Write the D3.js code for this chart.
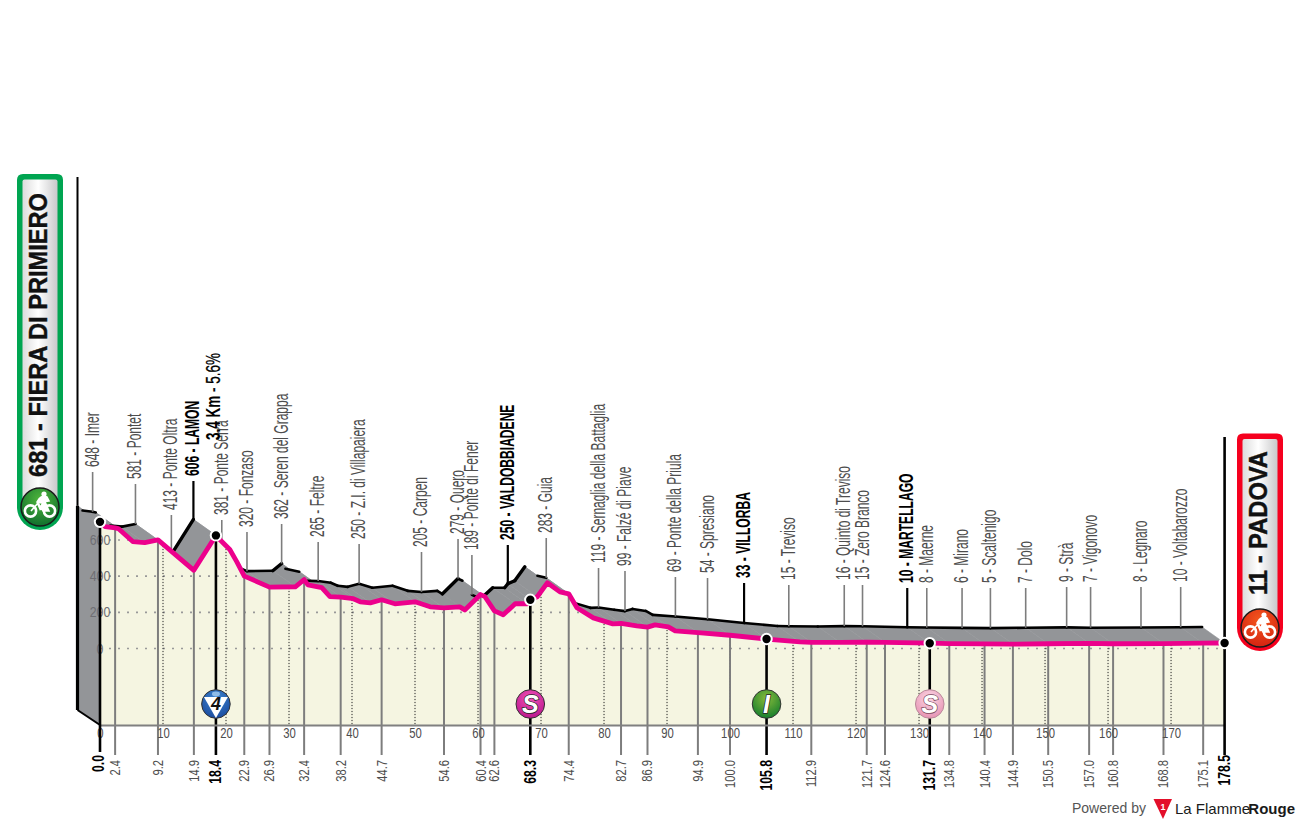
<!DOCTYPE html>
<html>
<head>
<meta charset="utf-8">
<script src="https://cdn.jsdelivr.net/npm/d3@7"></script>
<style>
  html, body { margin: 0; padding: 0; background: #fff; }
  svg { display: block; }
  text { font-family: "Liberation Sans Narrow", "Liberation Sans", sans-serif; }
</style>
</head>
<body>
<svg id="chart" width="1300" height="825"></svg>
<script>
// profile line (km / metres)
const profileKm = [0, 0.8, 2.4, 2.9, 5.2, 7.1, 9.2, 14.9, 18.4, 19, 20.6, 21.7, 22.9, 26.9, 31, 32.4, 33, 35.2, 36.5, 38.2,
  40.2, 41.3, 42.9, 44.7, 46.8, 50, 52.4, 54.6, 57.1, 57.9, 60.4, 61.1, 62.6, 64, 65.9, 67.8, 68.3, 69.4, 71, 73, 74.4,
  75.7, 78.3, 81.4, 82.7, 85.2, 86.9, 88.1, 90.2, 91.3, 94.9, 100, 105.8, 111.1, 112.9, 117.5, 121.7, 124.6, 131.7,
  134.8, 140.4, 144.9, 150.5, 157, 160.8, 168.8, 175.1, 178.5];
const profileElev = [681, 655, 648, 644, 572, 566, 581, 413, 606, 583, 528, 461, 381, 320, 322, 362, 333, 317, 267, 265,
  256, 239, 233, 250, 228, 239, 211, 205, 211, 194, 279, 267, 189, 167, 228, 228, 250, 267, 344, 294, 283,
  206, 150, 117, 119, 106, 99, 111, 100, 78, 69, 54, 33, 17, 15, 14, 16, 15, 10,
  8, 6, 5, 7, 9, 7, 8, 10, 11];

// named places along the route
const stopKm = [2.4, 9.2, 14.9, 18.4, 22.9, 26.9, 32.4, 38.2, 44.7, 54.6, 60.4, 62.6, 68.3, 74.4, 82.7, 86.9, 94.9, 100.0,
  105.8, 112.9, 121.7, 124.6, 131.7, 134.8, 140.4, 144.9, 150.5, 157.0, 160.8, 168.8, 175.1];
const stopElev = [648, 581, 413, 606, 381, 320, 362, 265, 250, 205, 279, 189, 250, 283, 119, 99, 69, 54,
  33, 15, 16, 15, 10, 8, 6, 5, 7, 9, 7, 8, 10];
const stopName = ['Imer', 'Pontet', 'Ponte Oltra', 'LAMON', 'Ponte Serra', 'Fonzaso', 'Seren del Grappa', 'Feltre',
  'Z.I. di Villapaiera', 'Carpen', 'Quero', 'Ponte di Fener', 'VALDOBBIADENE', 'Guia', 'Sernaglia della Battaglia',
  'Falzé di Piave', 'Ponte della Priula', 'Spresiano', 'VILLORBA', 'Treviso', 'Quinto di Treviso', 'Zero Branco',
  'MARTELLAGO', 'Maerne', 'Mirano', 'Scaltenigo', 'Dolo', 'Strà', 'Vigonovo', 'Legnaro', 'Voltabarozzo'];
const majorKm = [0, 18.4, 68.3, 105.8, 131.7, 178.5];
const kmTicks = [0, 10, 20, 30, 40, 50, 60, 70, 80, 90, 100, 110, 120, 130, 140, 150, 160, 170];
const elevTicks = [0, 200, 400, 600];

// km marks with a climb or sprint badge
const badgeKm = [18.4, 68.3, 105.8, 131.7];
const badgeText = ['4', 'S', 'I', 'S'];
const climbText = ['3.4 Km', ' - 5.6%'];

// layout only: where each label stem ends at the top
const stemTop = [472, 484, 515, 481, 520, 532, 524, 542, 544, 552, 539, 555, 545, 538, 568, 571, 577, 578,
  583, 585, 585, 585, 588, 588, 588, 588, 588, 587, 587, 587, 587];

const baseY = 725;
const backDx = 22.5;
const backDy = 16;
const LIFT = 3.5; // profile sits a little above the elevation grid

const svg = d3.select('#chart');
const defs = svg.append('defs');

const xScale = d3.scaleLinear().domain([0, 178.5]).range([100, 1224.6]);
const yScale = d3.scaleLinear().domain([0, 600]).range([648.5, 540]);
const elevAt = d3.scaleLinear().domain(profileKm).range(profileElev);
const frontY = (e) => yScale(e) - LIFT;

const profile = profileKm.map((km, i) => ({ km, elev: profileElev[i] }));

function narrowLabel(sel, x, y, scaleX) {
  sel.attr('transform', `translate(${x},${y}) rotate(-90) scale(${scaleX},1)`);
}

function drawRibbon() {
  const g = svg.append('g');
  const quad = d3.line();
  // side wall at the start
  g.append('path')
    .attr('d', quad([
      [xScale(0) - backDx, frontY(681) - backDy],
      [xScale(0) - backDx, baseY - 15],
      [xScale(0), baseY],
      [xScale(0), frontY(681)],
    ]) + 'Z')
    .attr('fill', '#939598');
  d3.pairs(profile).forEach(([a, b]) => {
    g.append('path')
      .attr('d', quad([
        [xScale(a.km), frontY(a.elev)],
        [xScale(b.km), frontY(b.elev)],
        [xScale(b.km) - backDx, frontY(b.elev) - backDy],
        [xScale(a.km) - backDx, frontY(a.elev) - backDy],
      ]) + 'Z')
      .attr('fill', '#939598')
      .attr('stroke', '#939598')
      .attr('stroke-width', 0.6);
  });
  // back edge: black except where the road drops away steeply
  d3.pairs(profile).forEach(([a, b]) => {
    const x1 = xScale(a.km) - backDx;
    const x2 = xScale(b.km) - backDx;
    const y1 = frontY(a.elev) - backDy;
    const y2 = frontY(b.elev) - backDy;
    const slope = (y2 - y1) / (x2 - x1);
    if (slope > 0.62) return;
    g.append('line')
      .attr('x1', x1).attr('y1', y1).attr('x2', x2).attr('y2', y2)
      .attr('stroke', '#000')
      .attr('stroke-linecap', 'round')
      .attr('stroke-width', slope < -0.3 ? 3.4 : 2.6);
  });
}

function drawStems() {
  const g = svg.append('g');
  stopKm.forEach((km, i) => {
    const major = majorKm.includes(km);
    g.append('line')
      .attr('x1', xScale(km) - backDx)
      .attr('x2', xScale(km) - backDx)
      .attr('y1', stemTop[i])
      .attr('y2', frontY(elevAt(km)) - backDy)
      .attr('stroke', major ? '#000' : '#7d7d7d')
      .attr('stroke-width', major ? 2.2 : 1.6);
    const label = g.append('text')
      .attr('text-anchor', 'start')
      .attr('font-size', major ? 19.5 : 20)
      .attr('font-weight', major ? 700 : 400)
      .attr('fill', major ? '#000' : '#4d4d4d')
      .text(`${stopElev[i]} - ${stopName[i]}`);
    narrowLabel(label, xScale(km) - backDx + 6, stemTop[i] - 5, major ? 0.62 : 0.6);
  });
}

function drawFace() {
  const area = d3.area()
    .x((d) => xScale(d.km))
    .y0(baseY)
    .y1((d) => frontY(d.elev));
  defs.append('clipPath').attr('id', 'faceClip')
    .append('path').attr('d', area(profile));
  svg.append('path').attr('d', area(profile)).attr('fill', '#f5f5e1');

  const grid = svg.append('g').attr('clip-path', 'url(#faceClip)');
  grid.selectAll('line.h')
    .data(elevTicks)
    .join('line')
    .attr('class', 'h')
    .attr('x1', xScale(0))
    .attr('x2', xScale(178.5))
    .attr('y1', (d) => yScale(d))
    .attr('y2', (d) => yScale(d))
    .attr('stroke', '#999')
    .attr('stroke-width', 1.6)
    .attr('stroke-dasharray', '2 7');
  grid.selectAll('line.v')
    .data(kmTicks.slice(1))
    .join('line')
    .attr('class', 'v')
    .attr('x1', (d) => xScale(d))
    .attr('x2', (d) => xScale(d))
    .attr('y1', yScale(700))
    .attr('y2', baseY)
    .attr('stroke', '#222')
    .attr('stroke-width', 1)
    .attr('stroke-dasharray', '1.2 1.8');
}

function drawDrops() {
  const g = svg.append('g');
  stopKm.forEach((km) => {
    const major = majorKm.includes(km);
    g.append('line')
      .attr('x1', xScale(km))
      .attr('x2', xScale(km))
      .attr('y1', frontY(elevAt(km)))
      .attr('y2', 755)
      .attr('stroke', major ? '#000' : '#7d7d7d')
      .attr('stroke-width', major ? 2.6 : 2);
  });
}

function drawAxes() {
  const xAxis = d3.axisBottom(xScale).tickValues(kmTicks).tickSize(0).tickPadding(3);
  const gx = svg.append('g')
    .attr('transform', `translate(0,${baseY})`)
    .call(xAxis);
  gx.select('.domain').attr('stroke', '#808080').attr('stroke-width', 2);
  gx.selectAll('text')
    .attr('font-size', 14.5)
    .attr('fill', '#4d4d4d')
    .attr('font-family', '"Liberation Sans Narrow", sans-serif')
    .attr('transform', 'scale(0.78,1)');

  const yAxis = d3.axisLeft(yScale).tickValues(elevTicks).tickSize(0).tickPadding(0);
  const gy = svg.append('g')
    .attr('transform', `translate(${xScale(0)},0)`)
    .call(yAxis);
  gy.select('.domain').remove();
  gy.selectAll('text')
    .attr('x', 0)
    .attr('text-anchor', 'middle')
    .attr('font-size', 14.5)
    .attr('font-family', '"Liberation Sans Narrow", sans-serif')
    .attr('fill', '#6f6f74')
    .attr('transform', 'scale(0.85,1)');
}

function drawKmLabels() {
  const g = svg.append('g');
  const all = [0].concat(stopKm, [178.5]);
  all.forEach((km) => {
    const major = majorKm.includes(km);
    const label = g.append('text')
      .attr('text-anchor', 'end')
      .attr('font-size', major ? 17 : 15.5)
      .attr('font-weight', major ? 700 : 400)
      .attr('fill', major ? '#000' : '#4d4d4d')
      .text(km.toFixed(1));
    const shift = major ? 5.5 : 5;
    narrowLabel(label, xScale(km) + (km === 0 ? shift - 2 : shift), km === 0 || km === 178.5 ? 755 : 760, 0.72);
  });
}

function drawFrame() {
  const g = svg.append('g');
  // tall edges
  g.append('line')
    .attr('x1', xScale(0) - backDx).attr('x2', xScale(0) - backDx)
    .attr('y1', 177).attr('y2', frontY(681) - backDy)
    .attr('stroke', '#000').attr('stroke-width', 2);
  g.append('line')
    .attr('x1', xScale(0) - backDx).attr('x2', xScale(0) - backDx)
    .attr('y1', frontY(681) - backDy).attr('y2', baseY - 15)
    .attr('stroke', '#000').attr('stroke-width', 3.2);
  g.append('line')
    .attr('x1', xScale(0) - backDx).attr('x2', xScale(0))
    .attr('y1', baseY - 15).attr('y2', baseY)
    .attr('stroke', '#000').attr('stroke-width', 2);
  g.append('line')
    .attr('x1', xScale(0)).attr('x2', xScale(0))
    .attr('y1', frontY(681)).attr('y2', 752)
    .attr('stroke', '#000').attr('stroke-width', 2.6);
  g.append('line')
    .attr('x1', xScale(178.5)).attr('x2', xScale(178.5))
    .attr('y1', 437).attr('y2', 755)
    .attr('stroke', '#000').attr('stroke-width', 2.6);
}

function drawRoad() {
  const line = d3.line()
    .x((d) => xScale(d.km))
    .y((d) => frontY(d.elev));
  svg.append('path')
    .attr('d', line(profile))
    .attr('fill', 'none')
    .attr('stroke', '#ec008c')
    .attr('stroke-width', 4.8)
    .attr('stroke-linejoin', 'round');
  svg.selectAll('circle.km')
    .data(majorKm)
    .join('circle')
    .attr('class', 'km')
    .attr('cx', (d) => xScale(d))
    .attr('cy', (d) => frontY(elevAt(d)))
    .attr('r', 5.2)
    .attr('fill', '#000')
    .attr('stroke', '#fff')
    .attr('stroke-width', 2);
}

function radial(id, inner, outer) {
  const grad = defs.append('radialGradient').attr('id', id).attr('cx', '50%').attr('cy', '30%').attr('r', '75%');
  grad.append('stop').attr('offset', '0%').attr('stop-color', inner);
  grad.append('stop').attr('offset', '100%').attr('stop-color', outer);
}

function drawBadges() {
  radial('bBlue', '#3f86d0', '#17479b');
  radial('bMagenta', '#f052b8', '#b8148a');
  radial('bGreen', '#86ba3a', '#0f7a2c');
  radial('bPink', '#fbd5e3', '#e58fb0');
  const fills = ['url(#bBlue)', 'url(#bMagenta)', 'url(#bGreen)', 'url(#bPink)'];
  const y = 704;
  badgeKm.forEach((km, i) => {
    const cx = xScale(km);
    const g = svg.append('g').attr('transform', `translate(${cx},${y})`);
    g.append('circle').attr('r', 14.3).attr('fill', fills[i]).attr('stroke', i === 3 ? '#b9899a' : '#333').attr('stroke-width', 1);
    if (i === 0) {
      g.append('path').attr('d', 'M-12,-7 L12,-7 L0,14 Z').attr('fill', '#fff');
      g.append('ellipse').attr('cy', -10).attr('rx', 4).attr('ry', 2.4).attr('fill', '#8fbce8');
      g.append('text')
        .attr('text-anchor', 'middle').attr('y', 6)
        .attr('font-size', 18).attr('font-weight', 700).attr('font-style', 'italic')
        .attr('fill', '#111').text(badgeText[i]);
    } else {
      g.append('text')
        .attr('text-anchor', 'middle').attr('y', 9)
        .attr('font-size', 25).attr('font-weight', 700).attr('font-style', 'italic')
        .attr('font-family', '"Liberation Sans", sans-serif')
        .attr('fill', '#fff').attr('stroke', i === 3 ? '#7a4a5d' : '#222')
        .attr('stroke-width', 1.4).attr('paint-order', 'stroke')
        .text(badgeText[i]);
    }
  });
}

function drawClimbLabel() {
  const t = svg.append('text')
    .attr('font-size', 20)
    .attr('fill', '#000')
    .attr('font-weight', 700);
  t.append('tspan').text(climbText[0]);
  t.append('tspan').attr('font-weight', 400).attr('stroke', '#000').attr('stroke-width', 0.3).text(climbText[1]);
  t.attr('textLength', 87).attr('lengthAdjust', 'spacingAndGlyphs')
    .attr('transform', 'translate(219.5,440) rotate(-90)');
}

function bike(g, cx, cy) {
  const c = g.append('g').attr('transform', `translate(${cx},${cy})`);
  [-9.5, 9.5].forEach((dx) => {
    c.append('circle').attr('cx', dx).attr('cy', 4).attr('r', 5.6)
      .attr('fill', 'none').attr('stroke', '#fff').attr('stroke-width', 2.6);
  });
  c.append('path')
    .attr('d', 'M-9,4 L-2,-4 L3,4 L9,4 L5,-5 L-2,-4 M-3,-5 C-1,-10 3,-12 7,-10 L9,-6 L3,-5 L0,2 Z')
    .attr('fill', '#fff').attr('stroke', '#fff').attr('stroke-width', 1.6);
  c.append('circle').attr('cx', 4).attr('cy', -13).attr('r', 2.6).attr('fill', '#fff');
}

function capsule(id, left, right, top, cy, r, color) {
  const grad = defs.append('linearGradient').attr('id', id);
  grad.append('stop').attr('offset', '0%').attr('stop-color', '#dcdcdc');
  grad.append('stop').attr('offset', '45%').attr('stop-color', '#ffffff');
  grad.append('stop').attr('offset', '100%').attr('stop-color', '#c8c8ca');
  const g = svg.append('g');
  const shape = (l, rr, t, rad, corner) => {
    const p = d3.path();
    p.moveTo(l + corner, t);
    p.lineTo(rr - corner, t);
    p.quadraticCurveTo(rr, t, rr, t + corner);
    p.lineTo(rr, cy);
    p.arc((l + rr) / 2, cy, rad, 0, Math.PI);
    p.lineTo(l, t + corner);
    p.quadraticCurveTo(l, t, l + corner, t);
    p.closePath();
    return p.toString();
  };
  g.append('path').attr('d', shape(left, right, top, r, 6)).attr('fill', color);
  g.append('path').attr('d', shape(left + 5.5, right - 5.5, top + 5.5, r - 5.5, 2)).attr('fill', `url(#${id})`);
  return g;
}

function drawEnds() {
  radial('startDisc', '#4fb53b', '#0b6a2c');
  radial('endDisc', '#f4581e', '#d21f10');

  const left = capsule('capStart', 17, 63, 174, 507, 23, '#00a551');
  left.append('circle').attr('cx', 40).attr('cy', 507).attr('r', 19)
    .attr('fill', 'url(#startDisc)').attr('stroke', '#1a1a1a').attr('stroke-width', 1.5);
  bike(left, 40, 507);
  left.append('text')
    .attr('font-family', '"Liberation Sans", sans-serif')
    .attr('font-size', 25).attr('font-weight', 700).attr('fill', '#111')
    .attr('stroke', '#111').attr('stroke-width', 0.4)
    .attr('textLength', 284).attr('lengthAdjust', 'spacingAndGlyphs')
    .attr('transform', 'translate(47,477) rotate(-90)')
    .text('681 - FIERA DI PRIMIERO');

  const right = capsule('capEnd', 1237, 1283, 433.5, 628, 23, '#f5001e');
  right.append('circle').attr('cx', 1260).attr('cy', 628).attr('r', 19)
    .attr('fill', 'url(#endDisc)').attr('stroke', '#1a1a1a').attr('stroke-width', 1.5);
  bike(right, 1260, 628);
  right.append('text')
    .attr('font-family', '"Liberation Sans", sans-serif')
    .attr('font-size', 25).attr('font-weight', 700).attr('fill', '#111')
    .attr('stroke', '#111').attr('stroke-width', 0.4)
    .attr('textLength', 144).attr('lengthAdjust', 'spacingAndGlyphs')
    .attr('transform', 'translate(1267,595) rotate(-90)')
    .text('11 - PADOVA');
}

function drawCredit() {
  const g = svg.append('g');
  g.append('text')
    .attr('x', 1072).attr('y', 813)
    .attr('font-family', 'Roboto, sans-serif')
    .attr('font-size', 14).attr('fill', '#555')
    .text('Powered by');
  g.append('path').attr('d', 'M1153.5,799 L1172,799 L1163,819 Z').attr('fill', '#e30f2a');
  g.append('text')
    .attr('x', 1163).attr('y', 810).attr('text-anchor', 'middle')
    .attr('font-family', 'Roboto, sans-serif').attr('font-size', 9).attr('font-weight', 700)
    .attr('fill', '#fff').text('1');
  g.append('text')
    .attr('x', 1175).attr('y', 814)
    .attr('font-family', 'Roboto, sans-serif')
    .attr('font-size', 15).attr('fill', '#1a1a1a')
    .text('La Flamme');
  g.append('text')
    .attr('x', 1295).attr('y', 814)
    .attr('text-anchor', 'end')
    .attr('font-family', 'Roboto, sans-serif')
    .attr('font-size', 15).attr('font-weight', 700).attr('fill', '#1a1a1a')
    .text('Rouge');
}

drawRibbon();
drawStems();
drawFace();
drawDrops();
drawAxes();
drawKmLabels();
drawRoad();
drawFrame();
svg.selectAll('circle.km').raise();
drawBadges();
drawClimbLabel();
drawEnds();
drawCredit();
</script>
</body>
</html>
